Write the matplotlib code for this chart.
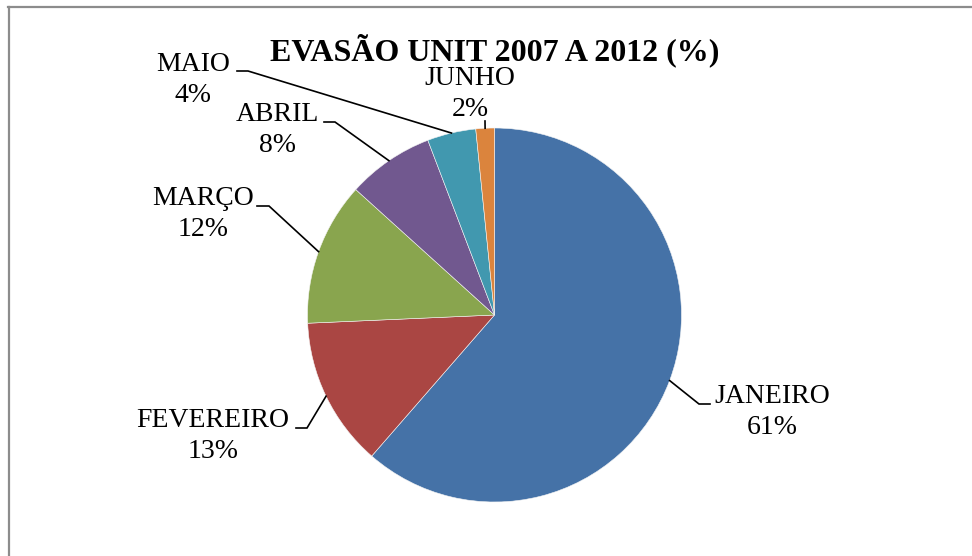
import numpy as np
import matplotlib
matplotlib.use("Agg")
import matplotlib.pyplot as plt
from matplotlib.lines import Line2D

plt.rcParams['font.family'] = ['Liberation Serif', 'DejaVu Serif']

title = "EVASÃO UNIT 2007 A 2012 (%)"
months = ["JANEIRO", "FEVEREIRO", "MARÇO", "ABRIL", "MAIO", "JUNHO"]
values = [61.4, 12.9, 12.4, 7.5, 4.2, 1.6]
shown_pct = [61, 13, 12, 8, 4, 2]
colors = ["#4572A7", "#AA4643", "#89A54E", "#71588F", "#4198AF", "#DB843D"]

W, H = 972, 556
fig = plt.figure(figsize=(W / 100, H / 100), dpi=100)
ax = fig.add_axes([0, 0, 1, 1])

cx, cy, R = 494.5, H - 315, 187
wedges, _ = ax.pie(values, colors=colors, startangle=90, counterclock=False,
                   center=(cx, cy), radius=R,
                   wedgeprops=dict(edgecolor="#f4f4f4", linewidth=0.4))
ax.set_xlim(0, W)
ax.set_ylim(0, H)
ax.set_aspect('equal')
ax.axis('off')

# label layout (pixel coords from top): text center, elbow, end of horizontal segment
layout = {
    "JANEIRO":   ((772, 412), (699, 404), (710, 404)),
    "FEVEREIRO": ((213, 436), (307, 428), (296, 428)),
    "MARÇO":     ((203, 214), (269, 206), (257, 206)),
    "ABRIL":     ((277, 130), (335, 122), (324, 122)),
    "MAIO":      ((193, 80), (248, 71), (237, 71)),
    "JUNHO":     ((470, 94), (485, 121), (485, 121)),
}

for w, name, pct in zip(wedges, months, shown_pct):
    mid = np.deg2rad((w.theta1 + w.theta2) / 2)
    ex, ey = cx + R * np.cos(mid), cy + R * np.sin(mid)
    (tx, ty), (bx, by), (hx, hy) = layout[name]
    ax.plot([ex, bx, hx], [ey, H - by, H - hy], color="black", lw=1.2,
            solid_joinstyle='miter')
    ax.text(tx, H - ty, f"{name}\n{pct}%", ha="center", va="center",
            fontsize=20, linespacing=1.32, color="black")

ax.text(495, H - 50, title, ha="center", va="center", fontsize=23,
        fontweight="bold", color="black")

# chart frame (cropped)
fig.add_artist(Line2D([8 / W, 1], [1 - 6.5 / H, 1 - 6.5 / H], color="#8c8c8c",
                      lw=1.6, transform=fig.transFigure))
fig.add_artist(Line2D([8.5 / W, 8.5 / W], [0, 1 - 6.5 / H], color="#8c8c8c",
                      lw=1.6, transform=fig.transFigure))

fig.savefig("out.png", dpi=100)
